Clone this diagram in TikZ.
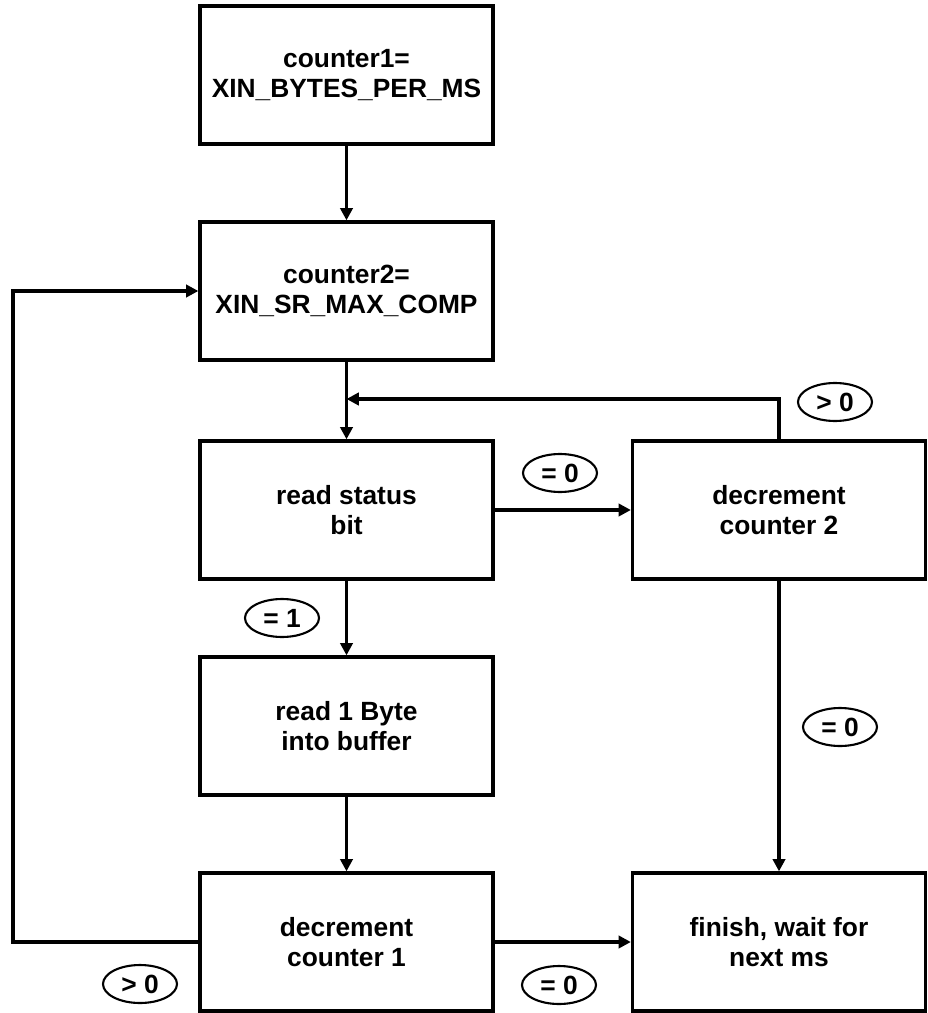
\documentclass[tikz,border=0pt]{standalone}
\usepackage{fontspec}
\setmainfont{Liberation Sans}
\usetikzlibrary{arrows.meta,shapes.geometric}

\tikzset{
  stepbox/.style={draw,line width=1.9pt,minimum width=5.86cm,minimum height=2.76cm,
    align=center,font=\fontsize{15}{17}\selectfont\bfseries},
  cond/.style={draw,ellipse,line width=1.2pt,minimum width=1.48cm,minimum height=0.76cm,
    inner sep=0pt,font=\fontsize{15}{17}\selectfont\bfseries},
  flow/.style={line width=1.9pt,-{Triangle[length=7pt,width=7pt]}},
}

\begin{document}
\begin{tikzpicture}[x=0.02cm,y=-0.02cm]
    \useasboundingbox (0,0) rectangle (927,1013);
    % left column
    \node[stepbox] (init1) at (346.5,75) {counter1=\\XIN\_BYTES\_PER\_MS};
    \node[stepbox] (init2) at (346.5,291) {counter2=\\XIN\_SR\_MAX\_COMP};
    \node[stepbox] (status) at (346.5,510) {read status\\bit};
    \node[stepbox] (readbyte) at (346.5,726) {read 1 Byte\\into buffer};
    \node[stepbox] (dec1) at (346.5,942) {decrement\\counter 1};
    % right column
    \node[stepbox] (dec2) at (779,510) {decrement\\counter 2};
    \node[stepbox] (finish) at (779,942) {finish, wait for\\next ms};
    \coordinate (merge) at (346.5,399);
    \coordinate (back) at (13,942);

    \draw[flow] (init1) -- (init2);
    \draw[flow] (init2) -- (status);
    \draw[flow] (status) -- (readbyte);
    \draw[flow] (readbyte) -- (dec1);
    \draw[flow] (status) -- (dec2);
    \draw[flow] (dec2) -- (finish);
    \draw[flow] (dec1) -- (finish);
    \draw[flow] (dec2.north) |- (merge);
    \draw[flow] (dec1.west) -- (back) |- (init2.west);

    % conditions
    \node[cond] (zeroA) at (560,473) {= 0};
    \node[cond] (moreA) at (835,402) {> 0};
    \node[cond] (one) at (282,618) {= 1};
    \node[cond] (zeroB) at (840,727) {= 0};
    \node[cond] (zeroC) at (559,985) {= 0};
    \node[cond] (moreB) at (140,984) {> 0};
  \end{tikzpicture}
\end{document}
